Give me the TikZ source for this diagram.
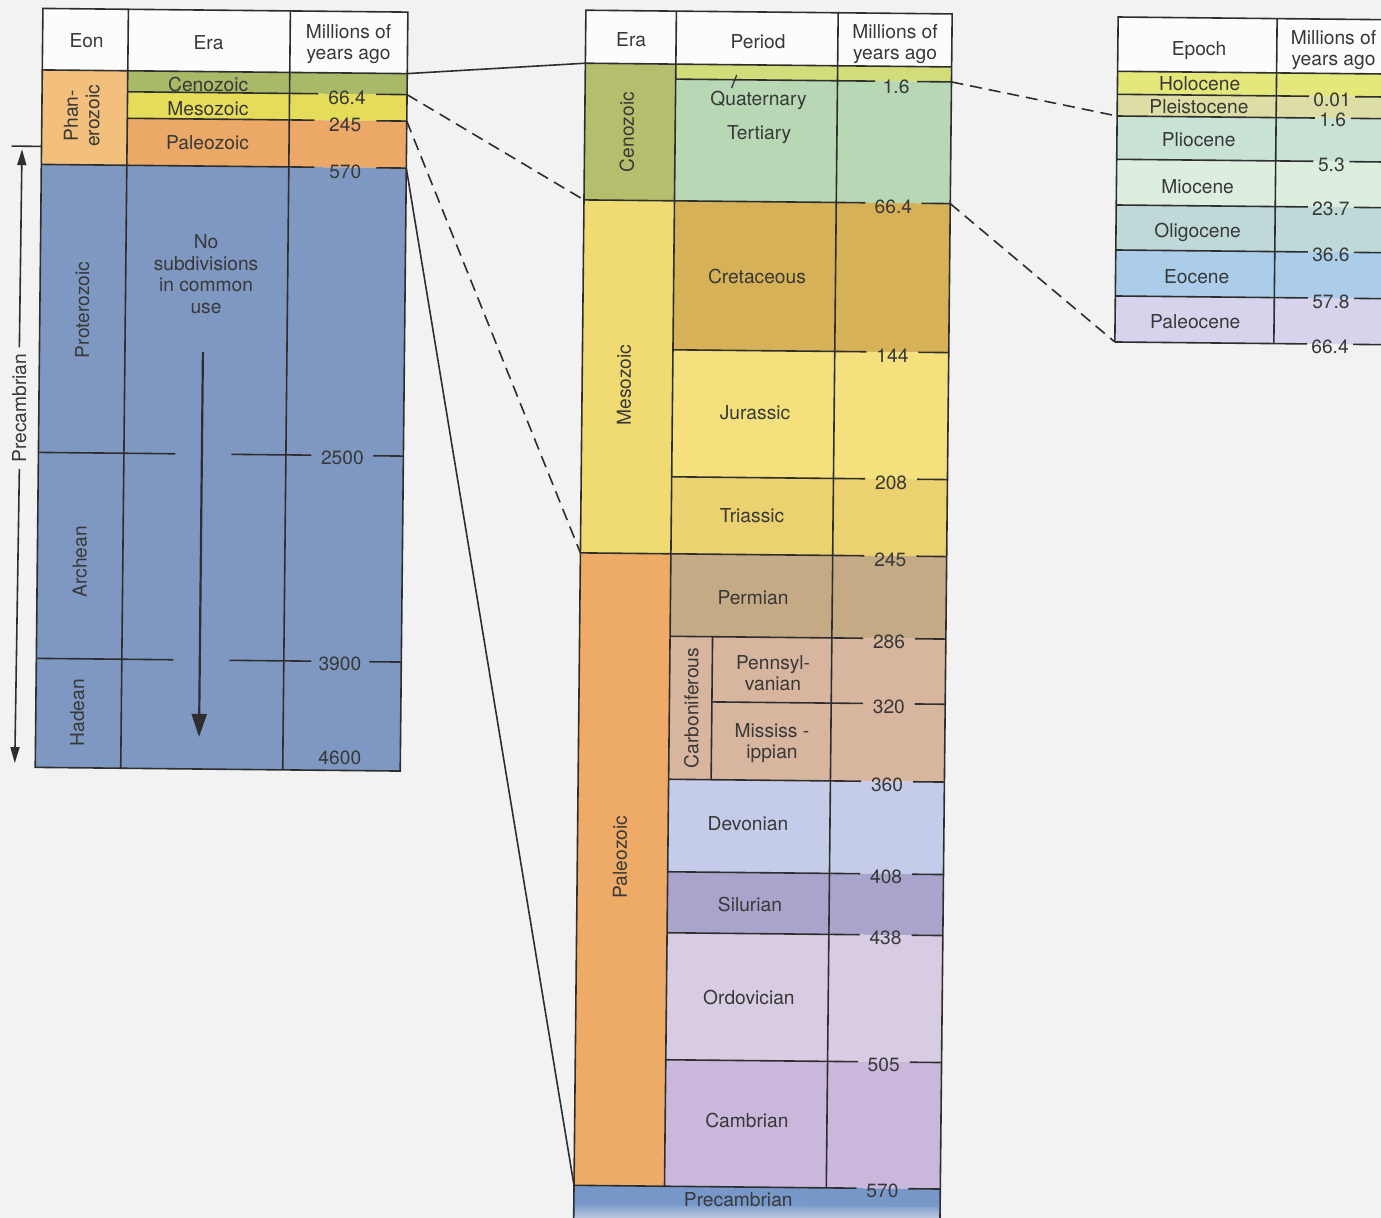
\documentclass[tikz,border=0pt]{standalone}
\usepackage{fontspec}
\setmainfont{TeX Gyre Heros}
\usetikzlibrary{arrows.meta}
\definecolor{bgc}{HTML}{F2F2F2}
\definecolor{hdr}{HTML}{FCFCFC}
\definecolor{ln}{HTML}{2E2E2E}
\definecolor{txt}{HTML}{383838}
\definecolor{phan}{HTML}{F2BF7C}
\definecolor{lceno}{HTML}{A8B967}
\definecolor{lmeso}{HTML}{E5DC5A}
\definecolor{lpaleo}{HTML}{EBA866}
\definecolor{precam}{HTML}{7F98C2}
\definecolor{meceno}{HTML}{B5BE6C}
\definecolor{mquat}{HTML}{D2DC7B}
\definecolor{mtert}{HTML}{B8D7B5}
\definecolor{mmeso}{HTML}{F0DB72}
\definecolor{mcret}{HTML}{D7B158}
\definecolor{mjur}{HTML}{F4E17E}
\definecolor{mtri}{HTML}{EBD170}
\definecolor{mpaleo}{HTML}{EEAB68}
\definecolor{mperm}{HTML}{C5AA86}
\definecolor{mcarb}{HTML}{D8B59E}
\definecolor{mdev}{HTML}{C4CCEA}
\definecolor{msil}{HTML}{A9A4CB}
\definecolor{mord}{HTML}{D8CCE3}
\definecolor{mcam}{HTML}{CAB8DC}
\definecolor{mpre}{HTML}{7897C9}
\definecolor{rhol}{HTML}{E4E77A}
\definecolor{rple}{HTML}{DDDDA6}
\definecolor{rpli}{HTML}{C8E2D4}
\definecolor{rmio}{HTML}{DDEEDF}
\definecolor{roli}{HTML}{BFD9D9}
\definecolor{reoc}{HTML}{ABCDEA}
\definecolor{rpal}{HTML}{D6D3EC}
% #1 name, #2 v, #3 u-start, #4 u-end, #5 label u, #6 half gap, #7 dy, #8 text
\newcommand{\tickline}[8]{%
  \draw[tline] (#3,#2) -- ({#5-#6},#2) ({#5+#6},#2) -- (#4,#2);
  \node[lbl] (#1) at (#5,{#2+#7}) {#8};}
\begin{document}
\begin{tikzpicture}[x=0.5pt,y=-0.5pt,
  lbl/.style={font=\fontsize{9.6}{10.8}\selectfont, text=txt, inner sep=0pt, align=center},
  vlbl/.style={lbl, rotate=90},
  tline/.style={draw=ln, line width=0.8pt},
  con/.style={draw=ln, line width=0.8pt},
  dcon/.style={con, dash pattern=on 6pt off 3.5pt}]
\useasboundingbox (0,0) rectangle (1381,1218);
\clip (0,0) rectangle (1381,1218);
\fill[bgc] (0,0) rectangle (1381,1218);
\begin{scope}[rotate=-0.58]
% ================= LEFT TABLE =================
\fill[hdr] (43,8) rectangle (408,69.5);
\fill[phan] (43,69.5) rectangle (128.5,164);
\fill[lceno] (128.5,69.5) rectangle (408,90.5);
\fill[lmeso] (128.5,90.5) rectangle (408,117);
\fill[lpaleo] (128.5,117) rectangle (408,164);
\fill[precam] (43,164) rectangle (408,767);
\draw[tline] (43,8) rectangle (408,767);
\draw[tline] (128.5,8) -- (128.5,767) (290.5,8) -- (290.5,767);
\draw[tline] (43,69.5) -- (408,69.5);
\tickline{l664}{90.5}{128.5}{408}{348}{29}{3.5}{66.4}
\tickline{l245}{117}{128.5}{408}{346.5}{31}{4.5}{245}
\tickline{l570}{164}{43}{408}{347}{31}{4.5}{570}
\draw[tline] (43,452) -- (180,452) (236,452) -- (316,452) (378,452) -- (408,452);
\node[lbl] (l2500) at (347,454.5) {2500};
\draw[tline] (43,658) -- (180,658) (236,658) -- (318,658) (376,658) -- (408,658);
\node[lbl] (l3900) at (346.6,660.5) {3900};
\node[lbl] (l4600) at (347.5,754.6) {4600};
\node[lbl] (lEon) at (87,40) {Eon};
\node[lbl] (lEra) at (209,40.5) {Era};
\node[lbl] (lMya) at (349,40.5) {Millions of\\years ago};
\node[vlbl] (lPhan) at (83,115) {Phan-\\erozoic};
\node[lbl] (lCeno) at (209,82) {Cenozoic};
\node[lbl] (lMeso) at (209,107) {Mesozoic};
\node[lbl] (lPaleo) at (209,140.5) {Paleozoic};
\node[vlbl] (lProt) at (85.5,309) {Proterozoic};
\node[vlbl] (lArch) at (85.5,561) {Archean};
\node[vlbl] (lHad) at (84.5,712) {Hadean};
\node[lbl] (lNo) at (208.8,272) {No\\subdivisions\\in common\\use};
\coordinate (arA) at (206.5,350);
\coordinate (arB) at (206.5,735);
\draw[con, line width=1.1pt, -{Triangle[length=11.5pt,width=7.5pt]}] (arA) -- (arB);
% Precambrian span arrow
\node[vlbl, inner xsep=3pt] (lPre) at (23.5,408) {Precambrian};
\coordinate (pTop) at (23.5,149);
\coordinate (pBot) at (22.5,763);
\draw[con, -{Triangle[length=8pt,width=4.5pt]}] (lPre.east) -- (pTop);
\draw[con, -{Triangle[length=8pt,width=4.5pt]}] (lPre.west) -- (pBot);
\coordinate (tkA) at (13,146);
\coordinate (tkB) at (43,146);
\draw[con] (tkA) -- (tkB);
% ================= MIDDLE TABLE =================
\fill[hdr] (586,4.3) rectangle (952.3,57.3);
\fill[meceno] (586,57.3) rectangle (676.5,194);
\fill[mquat] (676.5,57.3) rectangle (952.3,72.3);
\fill[mtert] (676.5,72.3) rectangle (952.3,194);
\fill[mmeso] (586,194) rectangle (676.5,547);
\fill[mcret] (676.5,194) rectangle (952.3,343);
\fill[mjur] (676.5,343) rectangle (952.3,470);
\fill[mtri] (676.5,470) rectangle (952.3,547);
\fill[mpaleo] (586,547) rectangle (676.5,1179.5);
\fill[mperm] (676.5,547) rectangle (952.3,629.5);
\fill[mcarb] (676.5,629.5) rectangle (952.3,772.5);
\fill[mdev] (676.5,772.5) rectangle (952.3,865);
\fill[msil] (676.5,865) rectangle (952.3,926);
\fill[mord] (676.5,926) rectangle (952.3,1053);
\fill[mcam] (676.5,1053) rectangle (952.3,1179.5);
\fill[mpre] (586,1179.5) rectangle (952.3,1198);
\shade[top color=mpre, bottom color=mpre!10!bgc] (586,1197.5) rectangle (952.3,1218);
\draw[tline] (586,1220) -- (586,4.3) -- (952.3,4.3) -- (952.3,1220);
\draw[tline] (676.5,4.3) -- (676.5,1179.5) (838.3,4.3) -- (838.3,1179.5);
\draw[tline] (586,57.3) -- (952.3,57.3);
\draw[tline] (719,629.5) -- (719,772.5);
\tickline{m16}{72.3}{676.5}{952.3}{897}{21}{5}{1.6}
\tickline{m664}{194}{586}{952.3}{895.5}{28}{4}{66.4}
\tickline{m144}{343}{676.5}{952.3}{896}{26}{3.5}{144}
\tickline{m208}{470}{676.5}{952.3}{896}{26}{3.5}{208}
\tickline{m245}{547}{586}{952.3}{896}{26}{3.5}{245}
\tickline{m286}{629.5}{676.5}{952.3}{895.5}{26}{3}{286}
\tickline{m320}{694.7}{719}{952.3}{896}{26}{3}{320}
\tickline{m360}{772.5}{676.5}{952.3}{895}{26}{3.5}{360}
\tickline{m408}{865}{676.5}{952.3}{895}{26}{3}{408}
\tickline{m438}{926}{676.5}{952.3}{895}{26}{3}{438}
\tickline{m505}{1053}{676.5}{952.3}{894.5}{26}{3}{505}
\tickline{m570}{1179.5}{586}{952.3}{894.5}{26}{2}{570}
\node[lbl] (mEra) at (631.5,33.6) {Era};
\node[lbl] (mPer) at (758.5,34) {Period};
\node[lbl] (mMya) at (895.5,35) {Millions of\\years ago};
\node[vlbl] (mCeno) at (628.3,125.7) {Cenozoic};
\node[vlbl] (mMeso) at (628,378.7) {Mesozoic};
\node[vlbl] (mPaleo) at (628.7,850.7) {Paleozoic};
\node[vlbl] (mCarb) at (698.5,701) {Carboniferous};
\node[lbl] (mQuat) at (759.5,92.4) {Quaternary};
\node[lbl] (mTert) at (760.5,127.3) {Tertiary};
\coordinate (slA) at (737.5,67.6);
\coordinate (slB) at (732.6,80.6);
\draw[con, line width=0.6pt] (slA) -- (slB);
\node[lbl] (mCret) at (759.8,268.4) {Cretaceous};
\node[lbl] (mJur) at (759.2,405.4) {Jurassic};
\node[lbl] (mTri) at (757.2,508.4) {Triassic};
\node[lbl] (mPerm) at (759,590.4) {Permian};
\node[lbl] (mPenn) at (779.8,665.2) {Pennsyl-\\vanian};
\node[lbl] (mMiss) at (779.5,735.2) {Mississ -\\ippian};
\node[lbl] (mDev) at (756.3,816.4) {Devonian};
\node[lbl] (mSil) at (759.1,897.4) {Silurian};
\node[lbl] (mOrd) at (759,990.4) {Ordovician};
\node[lbl] (mCam) at (758.3,1112.5) {Cambrian};
\node[lbl] (mPre) at (750.4,1192.4) {Precambrian};
% ================= RIGHT TABLE =================
\fill[hdr] (1118.3,5.7) rectangle (1420,60);
\fill[rhol] (1118.3,60) rectangle (1420,83);
\fill[rple] (1118.3,83) rectangle (1420,104.7);
\fill[rpli] (1118.3,104.7) rectangle (1420,148);
\fill[rmio] (1118.3,148) rectangle (1420,193.7);
\fill[roli] (1118.3,193.7) rectangle (1420,238.7);
\fill[reoc] (1118.3,238.7) rectangle (1420,284.7);
\fill[rpal] (1118.3,284.7) rectangle (1420,330.7);
\draw[tline] (1420,5.7) -- (1118.3,5.7) -- (1118.3,330.7);
\draw[tline] (1277.3,5.7) -- (1277.3,330.7);
\draw[tline] (1118.3,60) -- (1420,60);
\tickline{r001}{83}{1118.3}{1420}{1333}{23}{3}{0.01}
\tickline{r16}{104.7}{1118.3}{1420}{1334}{18}{2}{1.6}
\tickline{r53}{148}{1118.3}{1420}{1333}{18}{3.5}{5.3}
\tickline{r237}{193.7}{1118.3}{1420}{1333}{23}{2}{23.7}
\tickline{r366}{238.7}{1118.3}{1420}{1333.5}{23}{3}{36.6}
\tickline{r578}{284.7}{1118.3}{1420}{1334}{23}{3.5}{57.8}
\tickline{r664}{330.7}{1118.3}{1420}{1333.5}{23}{3}{66.4}
\node[lbl] (rEp) at (1199.5,38) {Epoch};
\node[lbl] (rMya) at (1334,36.5) {Millions of\\years ago};
\node[lbl] (rHol) at (1200.5,72) {Holocene};
\node[lbl] (rPle) at (1200,95) {Pleistocene};
\node[lbl] (rPli) at (1200,128) {Pliocene};
\node[lbl] (rMio) at (1199.5,174.5) {Miocene};
\node[lbl] (rOli) at (1200,220.5) {Oligocene};
\node[lbl] (rEoc) at (1199.5,265) {Eocene};
\node[lbl] (rPal) at (1198.5,309.5) {Paleocene};
% ================= CONNECTORS =================
\coordinate (lhR) at (408,69.5);
\coordinate (mhL) at (586,57.3);
\coordinate (l664R) at (408,90.5);
\coordinate (m664L) at (586,194);
\coordinate (l245R) at (408,117);
\coordinate (m245L) at (586,547);
\coordinate (l570R) at (408,164);
\coordinate (m570L) at (586,1179.5);
\coordinate (mqR) at (952.3,72.3);
\coordinate (r16L) at (1118.3,104.7);
\coordinate (m664R) at (952.3,194);
\coordinate (rbotL) at (1118.3,330.7);
\draw[con] (lhR) -- (mhL);
\draw[dcon] (l664R) -- (m664L);
\draw[dcon] (l245R) -- (m245L);
\draw[con] (l570R) -- (m570L);
\draw[dcon] (mqR) -- (r16L);
\draw[dcon] (m664R) -- (rbotL);
\end{scope}
\end{tikzpicture}
\end{document}
